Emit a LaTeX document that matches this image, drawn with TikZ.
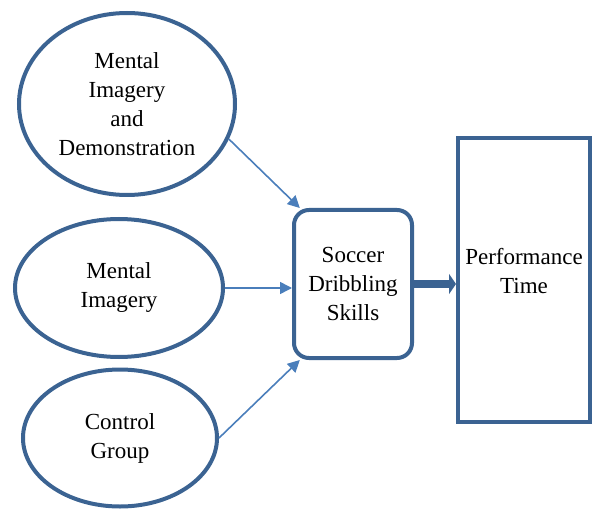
\documentclass[tikz,border=0pt]{standalone}
\usepackage{fontspec}
\setmainfont{Liberation Serif}
\newfontfamily\labelfont{Liberation Serif}
\usepackage{tikz}
\usetikzlibrary{shapes,calc,arrows.meta,shapes.geometric}

\definecolor{shape_blue}{HTML}{3B6392}
\definecolor{link_blue}{HTML}{4A7EBB}

\begin{document}
\begin{tikzpicture}[
            x=1pt, y=1pt,
            every node/.style={font=\labelfont\fontsize{23}{29}\selectfont, align=center},
            group_node/.style={ellipse, draw=shape_blue, line width=4pt, inner sep=0pt},
            skill_node/.style={rectangle, rounded corners=15pt, draw=shape_blue, line width=4pt, minimum width=118pt, minimum height=148pt, inner sep=0pt},
            result_node/.style={rectangle, draw=shape_blue, line width=4pt, minimum width=132pt, minimum height=284pt, inner sep=0pt},
            link/.style={draw=link_blue, line width=1.6pt, -{Triangle[length=12pt,width=12pt]}},
            main_link/.style={draw=shape_blue, line width=8pt, -{Triangle[length=7pt,width=20pt]}}
        ]
            \useasboundingbox (0,0) rectangle (593,509);
            % The three groups
            \node[group_node, minimum width=216pt, minimum height=182pt] (mental_demo) at (127,405) {Mental\\Imagery\\and\\Demonstration};
            \node[group_node, minimum width=208pt, minimum height=138pt] (mental) at (119,221) {Mental\\Imagery};
            \node[group_node, minimum width=194pt, minimum height=137pt] (control) at (120,71) {Control\\Group};
            % Skill and outcome
            \node[skill_node] (skills) at (353,225) {Soccer\\Dribbling\\Skills};
            \node[result_node] (perf) at (524,229) {};
            \node (perf_txt) at ([yshift=9pt]perf.center) {Performance\\Time};
            % Links
            \draw[link] (mental_demo.-19) -- (skills.125);
            \draw[link] (mental.east) -- (mental.east -| skills.west);
            \draw[link] (control.east) -- (skills.235);
            \draw[main_link] (skills.east) -- (skills.east -| perf.west);
        \end{tikzpicture}
\end{document}
